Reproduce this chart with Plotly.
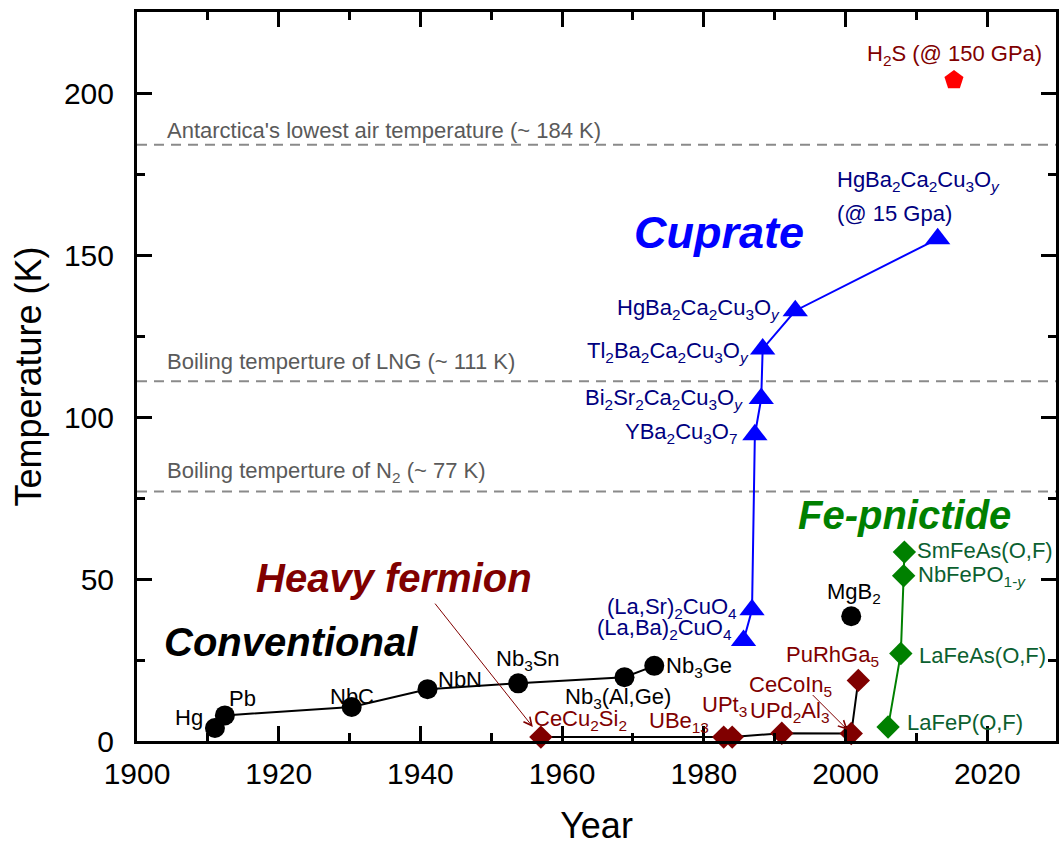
import plotly.graph_objects as go

FONT = "Liberation Sans, Arial, Helvetica, sans-serif"

# ---------------- data ----------------
conv_names = ["Hg", "Pb", "NbC", "NbN", "Nb<sub>3</sub>Sn", "Nb<sub>3</sub>(Al,Ge)", "Nb<sub>3</sub>Ge"]
conv_year = [1911.0, 1912.4, 1930.3, 1941.0, 1953.8, 1968.8, 1973.0]
conv_tc = [4.0, 7.9, 10.5, 16.0, 17.8, 19.7, 23.2]

mgb2_name = ["MgB<sub>2</sub>"]
mgb2_year = [2000.8]
mgb2_tc = [38.5]

hf_names = ["CeCu<sub>2</sub>Si<sub>2</sub>", "UBe<sub>13</sub>", "UPt<sub>3</sub>",
            "UPd<sub>2</sub>Al<sub>3</sub>", "CeCoIn<sub>5</sub>", "PuRhGa<sub>5</sub>"]
hf_year = [1957.0, 1982.8, 1984.0, 1991.0, 2000.8, 2001.8]
hf_tc = [1.2, 1.2, 1.2, 2.4, 2.3, 18.7]

cup_names = ["(La,Ba)<sub>2</sub>CuO<sub>4</sub>", "(La,Sr)<sub>2</sub>CuO<sub>4</sub>",
             "YBa<sub>2</sub>Cu<sub>3</sub>O<sub>7</sub>",
             "Bi<sub>2</sub>Sr<sub>2</sub>Ca<sub>2</sub>Cu<sub>3</sub>O<sub><i>y</i></sub>",
             "Tl<sub>2</sub>Ba<sub>2</sub>Ca<sub>2</sub>Cu<sub>3</sub>O<sub><i>y</i></sub>",
             "HgBa<sub>2</sub>Ca<sub>2</sub>Cu<sub>3</sub>O<sub><i>y</i></sub>",
             "HgBa<sub>2</sub>Ca<sub>2</sub>Cu<sub>3</sub>O<sub><i>y</i></sub>"]
cup_year = [1985.6, 1986.8, 1987.2, 1988.1, 1988.3, 1992.9, 2013.0]
cup_tc = [31.0, 40.5, 94.5, 105.7, 121.0, 132.8, 155.0]
cup_note = "(@ 15 Gpa)"

fe_names = ["LaFeP(O,F)", "LaFeAs(O,F)", "NbFePO<sub>1-<i>y</i></sub>", "SmFeAs(O,F)"]
fe_year = [2006.0, 2007.8, 2008.2, 2008.3]
fe_tc = [4.3, 27.0, 51.0, 58.3]

h2s_name = ["H<sub>2</sub>S (@ 150 GPa)"]
h2s_year = [2015.3]
h2s_tc = [204.0]

ref_names = ["Antarctica's lowest air temperature (~ 184 K)",
             "Boiling temperture of LNG (~ 111 K)",
             "Boiling temperture of N<sub>2</sub> (~ 77 K)"]
ref_tc = [184, 111, 77]

# ---------------- styles / label offsets (pixels) ----------------
C_CONV = "#000000"
C_HF = "#800000"
C_CUP = "#0000FF"
C_CUP_T = "#000080"
C_FE = "#008000"
C_FE_T = "#0B6030"
C_GRAY = "#5a5a5a"

conv_lab = [("right", -10, 11), ("left", 2, 17), ("center", 0, 10), ("left", 8, 10),
            ("center", 10, 23), ("center", -6, -21), ("left", 10, -1)]
hf_lab = [("left", -9, 17), ("right", -13, 15), ("center", -8, 31),
          ("center", 8, 21), None, ("center", -26, 24)]
cup_lab = [("right", -10, 12), ("right", -13, 2), ("right", -15, 2), ("right", -16, 0),
           ("right", -12, -3), ("right", -13, 2), ("left", -103, 58)]
fe_lab = [("left", 17, 5), ("left", 16, -2), ("left", 12, 0), ("left", 11, 2)]

fig = go.Figure()

# reference dashed lines
for t in ref_tc:
    fig.add_shape(type="line", xref="paper", x0=0, x1=1, yref="y", y0=t, y1=t,
                  line=dict(color="#8a8a8a", width=2, dash="10px,7px"), layer="below")

fig.add_trace(go.Scatter(x=conv_year, y=conv_tc, mode="lines+markers",
                         line=dict(color=C_CONV, width=2),
                         marker=dict(symbol="circle", size=20, color=C_CONV),
                         cliponaxis=False))
fig.add_trace(go.Scatter(x=mgb2_year, y=mgb2_tc, mode="markers",
                         marker=dict(symbol="circle", size=20, color=C_CONV),
                         cliponaxis=False))
fig.add_trace(go.Scatter(x=hf_year, y=hf_tc, mode="lines",
                         line=dict(color="#000000", width=2), cliponaxis=False))
fig.add_trace(go.Scatter(x=hf_year, y=hf_tc, mode="markers",
                         marker=dict(symbol="diamond", size=18, color=C_HF),
                         cliponaxis=False))
fig.add_trace(go.Scatter(x=cup_year, y=cup_tc, mode="lines+markers",
                         line=dict(color=C_CUP, width=2),
                         marker=dict(symbol="triangle-up", size=22, color=C_CUP),
                         cliponaxis=False))
fig.add_trace(go.Scatter(x=fe_year, y=fe_tc, mode="lines+markers",
                         line=dict(color=C_FE, width=2),
                         marker=dict(symbol="diamond", size=18, color=C_FE),
                         cliponaxis=False))
fig.add_trace(go.Scatter(x=h2s_year, y=h2s_tc, mode="markers",
                         marker=dict(symbol="pentagon", size=20, color="#FF0000"),
                         cliponaxis=False))

ann = []


def lab(text, x, y, spec, color, size=22):
    if spec is None:
        return
    a, dx, dy = spec
    ann.append(dict(x=x, y=y, text=text, showarrow=False, xanchor=a, yanchor="middle",
                    xshift=dx, yshift=dy, font=dict(family=FONT, size=size, color=color)))


for n, x, y, s in zip(conv_names, conv_year, conv_tc, conv_lab):
    lab(n, x, y, s, C_CONV)
lab(mgb2_name[0], mgb2_year[0], mgb2_tc[0], ("center", 3, 23), C_CONV)
for n, x, y, s in zip(hf_names, hf_year, hf_tc, hf_lab):
    lab(n, x, y, s, C_HF)
# CeCoIn5 label with arrow
lab(hf_names[4], hf_year[4], hf_tc[4], ("center", -61, 48), C_HF)
ann.append(dict(x=hf_year[4], y=hf_tc[4], text="", showarrow=True, ax=-40, ay=-40,
                arrowhead=5, arrowsize=1.6, arrowwidth=1, arrowcolor=C_HF, standoff=5))
for n, x, y, s in zip(cup_names, cup_year, cup_tc, cup_lab):
    lab(n, x, y, s, C_CUP_T)
lab(cup_note, cup_year[-1], cup_tc[-1], ("left", -103, 25), C_CUP_T)
for n, x, y, s in zip(fe_names, fe_year, fe_tc, fe_lab):
    lab(n, x, y, s, C_FE_T)
lab(h2s_name[0], h2s_year[0], h2s_tc[0], ("center", 1, 25), C_HF)

for n, t, dy in zip(ref_names, ref_tc, [14, 20, 20]):
    ann.append(dict(x=0.030, xref="paper", y=t, text=n, showarrow=False, xanchor="left",
                    yanchor="middle", yshift=dy, font=dict(family=FONT, size=22, color=C_GRAY)))


# family titles
def title(text, x, y, color, size=40):
    ann.append(dict(x=x, y=y, text="<b><i>%s</i></b>" % text, showarrow=False,
                    xanchor="center", yanchor="middle",
                    font=dict(family=FONT, size=size, color=color)))


title("Conventional", 1921.7, 30.6, C_CONV)
title("Heavy fermion", 1936.3, 50.3, C_HF)
title("Cuprate", 1982.1, 156.8, C_CUP, 45)
title("Fe-pnictide", 2008.3, 69.8, C_FE)

# heavy fermion arrow
ann.append(dict(x=hf_year[0], y=hf_tc[0], text="", showarrow=True, ax=-107, ay=-135,
                arrowhead=5, arrowsize=1.6, arrowwidth=1, arrowcolor=C_HF, standoff=13))

fig.update_layout(
    width=1059, height=847,
    margin=dict(l=137, r=0, t=12, b=106),
    paper_bgcolor="white", plot_bgcolor="white",
    showlegend=False,
    font=dict(family=FONT, color="black"),
    annotations=ann,
    xaxis=dict(range=[1900, 2029.7], tick0=1900, dtick=20, ticks="inside", ticklen=15,
               tickwidth=2.5, tickcolor="black",
               minor=dict(dtick=10, ticks="inside", ticklen=8, tickwidth=2.5, tickcolor="black"),
               showline=True, linewidth=3, linecolor="black", mirror="ticks",
               showgrid=False, zeroline=False, tickfont=dict(size=30, family=FONT),
               ticklabelstandoff=4,
               title=dict(text="Year", font=dict(size=36, family=FONT), standoff=24)),
    yaxis=dict(range=[0, 225], tick0=0, dtick=50, ticks="inside", ticklen=15,
               tickwidth=2.5, tickcolor="black",
               minor=dict(dtick=25, ticks="inside", ticklen=8, tickwidth=2.5, tickcolor="black"),
               showline=True, linewidth=3, linecolor="black", mirror="ticks",
               showgrid=False, zeroline=False, tickfont=dict(size=30, family=FONT),
               ticklabelstandoff=14,
               title=dict(text="Temperature (K)", font=dict(size=36, family=FONT), standoff=12)),
)

fig.write_html("out.html")
